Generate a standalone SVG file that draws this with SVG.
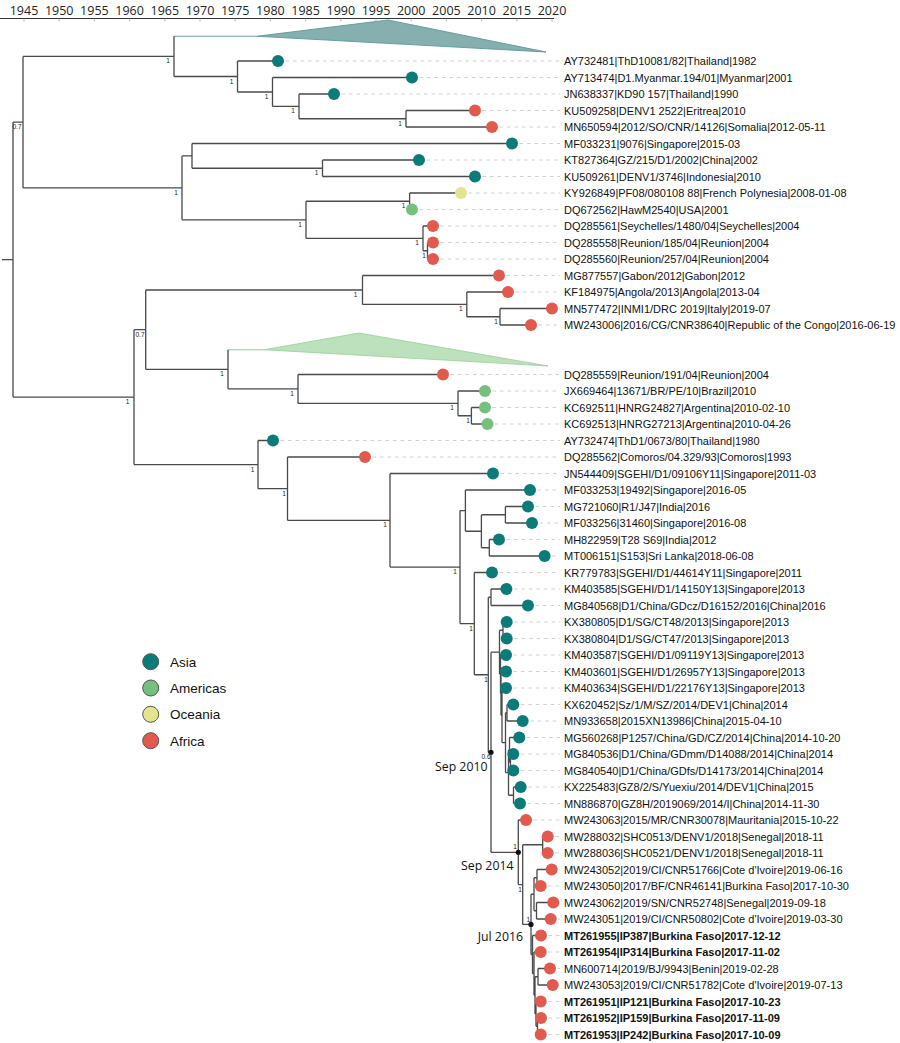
<svg xmlns="http://www.w3.org/2000/svg" width="900" height="1043" viewBox="0 0 900 1043">
<style>
.br{fill:none;stroke:#4a4a4a;stroke-width:1.3}
.ld{stroke:#d0d0d0;stroke-width:1;stroke-dasharray:3.5 4}
.as{fill:#0b7b79}.am{fill:#74c07c}.oc{fill:#e2e58d}.af{fill:#e15a4d}
.tl{font-family:"Liberation Sans",Arial,sans-serif;font-size:11px;fill:#111}
.b{font-weight:bold}
.nl{font-family:"Liberation Sans",Arial,sans-serif;font-size:6.5px;fill:#222;text-anchor:middle}
.yr{font-family:"Open Sans",sans-serif;font-size:12.5px;fill:#222;text-anchor:middle}
.dt{font-family:"Open Sans",sans-serif;font-size:12.3px;fill:#111;text-anchor:end}
.lg{font-family:"Liberation Sans",Arial,sans-serif;font-size:13.5px;fill:#111}
.lc{stroke:#555;stroke-width:1}
</style>
<rect width="900" height="1043" fill="#fff"/>
<g id="axis">
<path d="M0 18.5H554" stroke="#333" stroke-width="1"/>
<path d="M24 18.5V21.5M59.2 18.5V21.5M94.4 18.5V21.5M129.6 18.5V21.5M164.8 18.5V21.5M200 18.5V21.5M235.2 18.5V21.5M270.4 18.5V21.5M305.6 18.5V21.5M340.8 18.5V21.5M376 18.5V21.5M411.2 18.5V21.5M446.4 18.5V21.5M481.6 18.5V21.5M516.8 18.5V21.5M552 18.5V21.5" stroke="#aaa" stroke-width="0.8"/>
<text class="yr" x="24" y="15">1945</text><text class="yr" x="59.2" y="15">1950</text><text class="yr" x="94.4" y="15">1955</text><text class="yr" x="129.6" y="15">1960</text><text class="yr" x="164.8" y="15">1965</text><text class="yr" x="200" y="15">1970</text><text class="yr" x="235.2" y="15">1975</text><text class="yr" x="270.4" y="15">1980</text><text class="yr" x="305.6" y="15">1985</text><text class="yr" x="340.8" y="15">1990</text><text class="yr" x="376" y="15">1995</text><text class="yr" x="411.2" y="15">2000</text><text class="yr" x="446.4" y="15">2005</text><text class="yr" x="481.6" y="15">2010</text><text class="yr" x="516.8" y="15">2015</text><text class="yr" x="552" y="15">2020</text>
</g>
<g id="collapsed-asia">
<path d="M174 36.25H257" stroke="#6aa3a2" stroke-width="1"/>
<polygon points="257,36.25 388,20 546,52" fill="#86b0af" stroke="#5e9897" stroke-width="0.9"/>
</g>
<g id="collapsed-americas">
<path d="M228 349.75H264" stroke="#8fcf8f" stroke-width="1"/>
<polygon points="264,349.75 359,333 548,366" fill="#bde0bd" stroke="#96d196" stroke-width="0.8"/>
</g>
<g id="leaders">
<path class="ld" d="M278 61H560M412 77.5H560M334 94H560M475 110.5H560M492 127H560M512 143.5H560M419 160H560M475 176.5H560M461 193H560M412 209.5H560M433 226H560M433 242.5H560M433 259H560M499 275.5H560M508 292H560M552 308.5H560M531 325H560M443 374.5H560M485 391H560M485 407.5H560M487.5 424H560M273 440.5H560M365 457H560M493 473.5H560M530 490H560M528 506.5H560M532 523H560M499 539.5H560M544.6 556H560M492 572.5H560M506.4 589H560M528 605.5H560M506.7 622H560M506.7 638.5H560M506 655H560M506 671.5H560M506 688H560M513.3 704.5H560M522.7 721H560M519.3 737.5H560M513.3 754H560M513.3 770.5H560M520.7 787H560M520 803.5H560M526 820H560M547.7 836.5H560M547.7 853H560M551.7 869.5H560M540.7 886H560M553.3 902.5H560M550.7 919H560M541 935.5H560M540.7 952H560M550 968.5H560M552.7 985H560M540.7 1001.5H560M541 1018H560M540.7 1034.5H560"/>
</g>
<g id="connectors" class="br">
<path d="M2 259.6H13M13 122.1V397.1M13 122.1H23M13 397.1H134"/>
<path d="M23 56.4V187.9M23 56.4H174M23 187.9H182"/>
<path d="M174 36.25V76.5M174 76.5H237.5M237.5 61V92M237.5 61H278M237.5 92H272.5M272.5 77.5V106.4M272.5 77.5H412M272.5 106.4H299M299 94V118.75M299 94H334M299 118.75H406M406 110.5V127M406 110.5H475M406 127H492"/>
<path d="M182 155.9V219.8M182 155.9H192M182 219.8H306M192 143.5V168.25M192 143.5H512M192 168.25H322.5M322.5 160V176.5M322.5 160H419M322.5 176.5H475M306 201.25V238.4M306 201.25H409.6M306 238.4H423M409.6 193V209.5M409.6 193H461M409.6 209.5H412M423 226V250.75M423 226H433M423 250.75H427.5M427.5 242.5V259M427.5 242.5H433M427.5 259H433"/>
<path d="M134 329.7V464.6M134 329.7H145.7M134 464.6H258M145.7 290V369.3M145.7 290H362.5M145.7 369.3H228M362.5 275.5V304.4M362.5 275.5H499M362.5 304.4H466.8M466.8 292V316.75M466.8 292H508M466.8 316.75H500M500 308.5V325M500 308.5H552M500 325H531"/>
<path d="M228 349.75V388.9M228 388.9H298M298 374.5V403.4M298 374.5H443M298 403.4H458M458 391V415.75M458 391H485M458 415.75H471.4M471.4 407.5V424M471.4 407.5H485M471.4 424H487.5"/>
<path d="M258 440.5V488.65M258 440.5H273M258 488.65H287.5M287.5 457V520.3M287.5 457H365M287.5 520.3H390M390 473.5V567.1M390 473.5H493M390 567.1H460M460 510.6V623.6M460 510.6H465.4M460 623.6H474.3M465.4 490V531.25M465.4 490H530M465.4 531.25H481.4M481.4 514.75V547.75M481.4 514.75H505.4M481.4 547.75H489.3M505.4 506.5V523M505.4 506.5H528M505.4 523H532M489.3 539.5V556M489.3 539.5H499M489.3 556H544.6"/>
<path d="M474.3 572.5V674.75M474.3 572.5H492M474.3 674.75H488.3M488.3 597.25V752.25M488.3 597.25H491M488.3 752.25H491M491 589V605.5M491 589H506.4M491 605.5H528"/>
<path d="M491 652.2V852.3M491 652.2H499.5M491 852.3H518.3M499.5 630.25V674.2M499.5 630.25H503M499.5 674.2H500.5M503 622V638.5M503 622H506.7M503 638.5H506.7M500.5 655V693.4M500.5 655H506M500.5 693.4H501M501 671.5V715.3M501 671.5H506M501 715.3H502M502 688V742.7M502 688H506M502 742.7H505.5M505.5 712.75V772.6M505.5 712.75H507M505.5 772.6H508.5M507 704.5V721M507 704.5H513.3M507 721H522.7M508.5 749.9V795.25M508.5 749.9H509.5M508.5 795.25H513.5M509.5 737.5V762.25M509.5 737.5H519.3M509.5 762.25H510.5M510.5 754V770.5M510.5 754H513.3M510.5 770.5H513.3M513.5 787V803.5M513.5 787H520.7M513.5 803.5H520"/>
<path d="M518.3 820V884.6M518.3 820H526M518.3 884.6H522.7M522.7 844.75V924.4M522.7 844.75H542.7M522.7 924.4H531M542.7 836.5V853M542.7 836.5H547.7M542.7 853H547.7M531 894.25V954.6M531 894.25H534M531 954.6H532.5M534 877.75V910.75M534 877.75H537M534 910.75H536.5M537 869.5V886M537 869.5H551.7M537 886H540.7M536.5 902.5V919M536.5 902.5H553.3M536.5 919H550.7M532.5 935.5V973.7M532.5 935.5H541M532.5 973.7H534M534 952V995.3M534 952H540.7M534 995.3H535M535 976.75V1013.9M535 976.75H538M535 1013.9H536M538 968.5V985M538 968.5H550M538 985H552.7M536 1001.5V1026.25M536 1001.5H540.7M536 1026.25H537.5M537.5 1018V1034.5M537.5 1018H541M537.5 1034.5H540.7"/>
</g>
<g id="node-support">
<text class="nl" x="17" y="129">0.7</text>
<text class="nl" x="168" y="63.4">1</text>
<text class="nl" x="231.5" y="83.5">1</text>
<text class="nl" x="266.5" y="99">1</text>
<text class="nl" x="293" y="113.4">1</text>
<text class="nl" x="400" y="125.7">1</text>
<text class="nl" x="176" y="194.9">1</text>
<text class="nl" x="316.5" y="175.2">1</text>
<text class="nl" x="300" y="226.8">1</text>
<text class="nl" x="403.6" y="208.2">1</text>
<text class="nl" x="417" y="245.4">1</text>
<text class="nl" x="424" y="257.7">1</text>
<text class="nl" x="127.5" y="404.1">1</text>
<text class="nl" x="140" y="336.7">0.7</text>
<text class="nl" x="355.5" y="297">1</text>
<text class="nl" x="460.8" y="311.4">1</text>
<text class="nl" x="496" y="323.7">1</text>
<text class="nl" x="222" y="376.3">1</text>
<text class="nl" x="292" y="395.9">1</text>
<text class="nl" x="452" y="410.4">1</text>
<text class="nl" x="468" y="422.7">1</text>
<text class="nl" x="252.5" y="471.6">1</text>
<text class="nl" x="284" y="495.6">1</text>
<text class="nl" x="385" y="527.3">1</text>
<text class="nl" x="455" y="574.1">1</text>
<text class="nl" x="471" y="630.6">1</text>
<text class="nl" x="486" y="681.7">1</text>
<text class="nl" x="486" y="759">0.6</text>
<text class="nl" x="515" y="849">1</text>
<text class="nl" x="520" y="891.6">1</text>
<text class="nl" x="528.3" y="922">1</text>
</g>
<g id="dated-nodes">
<circle cx="491" cy="752.25" r="2.6" fill="#111"/>
<text class="dt" x="487.5" y="771">Sep 2010</text>
<circle cx="518.3" cy="852.3" r="2.6" fill="#111"/>
<text class="dt" x="513.5" y="869.5">Sep 2014</text>
<circle cx="531" cy="924.4" r="2.6" fill="#111"/>
<text class="dt" x="523" y="941">Jul 2016</text>
</g>
<g id="tip01"><circle class="as" cx="278" cy="61" r="6"/><text class="tl" x="564" y="65">AY732481|ThD10081/82|Thailand|1982</text></g>
<g id="tip02"><circle class="as" cx="412" cy="77.5" r="6"/><text class="tl" x="564" y="81.5">AY713474|D1.Myanmar.194/01|Myanmar|2001</text></g>
<g id="tip03"><circle class="as" cx="334" cy="94" r="6"/><text class="tl" x="564" y="98">JN638337|KD90 157|Thailand|1990</text></g>
<g id="tip04"><circle class="af" cx="475" cy="110.5" r="6"/><text class="tl" x="564" y="114.5">KU509258|DENV1 2522|Eritrea|2010</text></g>
<g id="tip05"><circle class="af" cx="492" cy="127" r="6"/><text class="tl" x="564" y="131">MN650594|2012/SO/CNR/14126|Somalia|2012-05-11</text></g>
<g id="tip06"><circle class="as" cx="512" cy="143.5" r="6"/><text class="tl" x="564" y="147.5">MF033231|9076|Singapore|2015-03</text></g>
<g id="tip07"><circle class="as" cx="419" cy="160" r="6"/><text class="tl" x="564" y="164">KT827364|GZ/215/D1/2002|China|2002</text></g>
<g id="tip08"><circle class="as" cx="475" cy="176.5" r="6"/><text class="tl" x="564" y="180.5">KU509261|DENV1/3746|Indonesia|2010</text></g>
<g id="tip09"><circle class="oc" cx="461" cy="193" r="6"/><text class="tl" x="564" y="197">KY926849|PF08/080108 88|French Polynesia|2008-01-08</text></g>
<g id="tip10"><circle class="am" cx="412" cy="209.5" r="6"/><text class="tl" x="564" y="213.5">DQ672562|HawM2540|USA|2001</text></g>
<g id="tip11"><circle class="af" cx="433" cy="226" r="6"/><text class="tl" x="564" y="230">DQ285561|Seychelles/1480/04|Seychelles|2004</text></g>
<g id="tip12"><circle class="af" cx="433" cy="242.5" r="6"/><text class="tl" x="564" y="246.5">DQ285558|Reunion/185/04|Reunion|2004</text></g>
<g id="tip13"><circle class="af" cx="433" cy="259" r="6"/><text class="tl" x="564" y="263">DQ285560|Reunion/257/04|Reunion|2004</text></g>
<g id="tip14"><circle class="af" cx="499" cy="275.5" r="6"/><text class="tl" x="564" y="279.5">MG877557|Gabon/2012|Gabon|2012</text></g>
<g id="tip15"><circle class="af" cx="508" cy="292" r="6"/><text class="tl" x="564" y="296">KF184975|Angola/2013|Angola|2013-04</text></g>
<g id="tip16"><circle class="af" cx="552" cy="308.5" r="6"/><text class="tl" x="564" y="312.5">MN577472|INMI1/DRC 2019|Italy|2019-07</text></g>
<g id="tip17"><circle class="af" cx="531" cy="325" r="6"/><text class="tl" x="564" y="329">MW243006|2016/CG/CNR38640|Republic of the Congo|2016-06-19</text></g>
<g id="tip18"><circle class="af" cx="443" cy="374.5" r="6"/><text class="tl" x="564" y="378.5">DQ285559|Reunion/191/04|Reunion|2004</text></g>
<g id="tip19"><circle class="am" cx="485" cy="391" r="6"/><text class="tl" x="564" y="395">JX669464|13671/BR/PE/10|Brazil|2010</text></g>
<g id="tip20"><circle class="am" cx="485" cy="407.5" r="6"/><text class="tl" x="564" y="411.5">KC692511|HNRG24827|Argentina|2010-02-10</text></g>
<g id="tip21"><circle class="am" cx="487.5" cy="424" r="6"/><text class="tl" x="564" y="428">KC692513|HNRG27213|Argentina|2010-04-26</text></g>
<g id="tip22"><circle class="as" cx="273" cy="440.5" r="6"/><text class="tl" x="564" y="444.5">AY732474|ThD1/0673/80|Thailand|1980</text></g>
<g id="tip23"><circle class="af" cx="365" cy="457" r="6"/><text class="tl" x="564" y="461">DQ285562|Comoros/04.329/93|Comoros|1993</text></g>
<g id="tip24"><circle class="as" cx="493" cy="473.5" r="6"/><text class="tl" x="564" y="477.5">JN544409|SGEHI/D1/09106Y11|Singapore|2011-03</text></g>
<g id="tip25"><circle class="as" cx="530" cy="490" r="6"/><text class="tl" x="564" y="494">MF033253|19492|Singapore|2016-05</text></g>
<g id="tip26"><circle class="as" cx="528" cy="506.5" r="6"/><text class="tl" x="564" y="510.5">MG721060|R1/J47|India|2016</text></g>
<g id="tip27"><circle class="as" cx="532" cy="523" r="6"/><text class="tl" x="564" y="527">MF033256|31460|Singapore|2016-08</text></g>
<g id="tip28"><circle class="as" cx="499" cy="539.5" r="6"/><text class="tl" x="564" y="543.5">MH822959|T28 S69|India|2012</text></g>
<g id="tip29"><circle class="as" cx="544.6" cy="556" r="6"/><text class="tl" x="564" y="560">MT006151|S153|Sri Lanka|2018-06-08</text></g>
<g id="tip30"><circle class="as" cx="492" cy="572.5" r="6"/><text class="tl" x="564" y="576.5">KR779783|SGEHI/D1/44614Y11|Singapore|2011</text></g>
<g id="tip31"><circle class="as" cx="506.4" cy="589" r="6"/><text class="tl" x="564" y="593">KM403585|SGEHI/D1/14150Y13|Singapore|2013</text></g>
<g id="tip32"><circle class="as" cx="528" cy="605.5" r="6"/><text class="tl" x="564" y="609.5">MG840568|D1/China/GDcz/D16152/2016|China|2016</text></g>
<g id="tip33"><circle class="as" cx="506.7" cy="622" r="6"/><text class="tl" x="564" y="626">KX380805|D1/SG/CT48/2013|Singapore|2013</text></g>
<g id="tip34"><circle class="as" cx="506.7" cy="638.5" r="6"/><text class="tl" x="564" y="642.5">KX380804|D1/SG/CT47/2013|Singapore|2013</text></g>
<g id="tip35"><circle class="as" cx="506" cy="655" r="6"/><text class="tl" x="564" y="659">KM403587|SGEHI/D1/09119Y13|Singapore|2013</text></g>
<g id="tip36"><circle class="as" cx="506" cy="671.5" r="6"/><text class="tl" x="564" y="675.5">KM403601|SGEHI/D1/26957Y13|Singapore|2013</text></g>
<g id="tip37"><circle class="as" cx="506" cy="688" r="6"/><text class="tl" x="564" y="692">KM403634|SGEHI/D1/22176Y13|Singapore|2013</text></g>
<g id="tip38"><circle class="as" cx="513.3" cy="704.5" r="6"/><text class="tl" x="564" y="708.5">KX620452|Sz/1/M/SZ/2014/DEV1|China|2014</text></g>
<g id="tip39"><circle class="as" cx="522.7" cy="721" r="6"/><text class="tl" x="564" y="725">MN933658|2015XN13986|China|2015-04-10</text></g>
<g id="tip40"><circle class="as" cx="519.3" cy="737.5" r="6"/><text class="tl" x="564" y="741.5">MG560268|P1257/China/GD/CZ/2014|China|2014-10-20</text></g>
<g id="tip41"><circle class="as" cx="513.3" cy="754" r="6"/><text class="tl" x="564" y="758">MG840536|D1/China/GDmm/D14088/2014|China|2014</text></g>
<g id="tip42"><circle class="as" cx="513.3" cy="770.5" r="6"/><text class="tl" x="564" y="774.5">MG840540|D1/China/GDfs/D14173/2014|China|2014</text></g>
<g id="tip43"><circle class="as" cx="520.7" cy="787" r="6"/><text class="tl" x="564" y="791">KX225483|GZ8/2/S/Yuexiu/2014/DEV1|China|2015</text></g>
<g id="tip44"><circle class="as" cx="520" cy="803.5" r="6"/><text class="tl" x="564" y="807.5">MN886870|GZ8H/2019069/2014/I|China|2014-11-30</text></g>
<g id="tip45"><circle class="af" cx="526" cy="820" r="6"/><text class="tl" x="564" y="824">MW243063|2015/MR/CNR30078|Mauritania|2015-10-22</text></g>
<g id="tip46"><circle class="af" cx="547.7" cy="836.5" r="6"/><text class="tl" x="564" y="840.5">MW288032|SHC0513/DENV1/2018|Senegal|2018-11</text></g>
<g id="tip47"><circle class="af" cx="547.7" cy="853" r="6"/><text class="tl" x="564" y="857">MW288036|SHC0521/DENV1/2018|Senegal|2018-11</text></g>
<g id="tip48"><circle class="af" cx="551.7" cy="869.5" r="6"/><text class="tl" x="564" y="873.5">MW243052|2019/CI/CNR51766|Cote d'Ivoire|2019-06-16</text></g>
<g id="tip49"><circle class="af" cx="540.7" cy="886" r="6"/><text class="tl" x="564" y="890">MW243050|2017/BF/CNR46141|Burkina Faso|2017-10-30</text></g>
<g id="tip50"><circle class="af" cx="553.3" cy="902.5" r="6"/><text class="tl" x="564" y="906.5">MW243062|2019/SN/CNR52748|Senegal|2019-09-18</text></g>
<g id="tip51"><circle class="af" cx="550.7" cy="919" r="6"/><text class="tl" x="564" y="923">MW243051|2019/CI/CNR50802|Cote d'Ivoire|2019-03-30</text></g>
<g id="tip52"><circle class="af" cx="541" cy="935.5" r="6"/><text class="tl b" x="564" y="939.5">MT261955|IP387|Burkina Faso|2017-12-12</text></g>
<g id="tip53"><circle class="af" cx="540.7" cy="952" r="6"/><text class="tl b" x="564" y="956">MT261954|IP314|Burkina Faso|2017-11-02</text></g>
<g id="tip54"><circle class="af" cx="550" cy="968.5" r="6"/><text class="tl" x="564" y="972.5">MN600714|2019/BJ/9943|Benin|2019-02-28</text></g>
<g id="tip55"><circle class="af" cx="552.7" cy="985" r="6"/><text class="tl" x="564" y="989">MW243053|2019/CI/CNR51782|Cote d'Ivoire|2019-07-13</text></g>
<g id="tip56"><circle class="af" cx="540.7" cy="1001.5" r="6"/><text class="tl b" x="564" y="1005.5">MT261951|IP121|Burkina Faso|2017-10-23</text></g>
<g id="tip57"><circle class="af" cx="541" cy="1018" r="6"/><text class="tl b" x="564" y="1022">MT261952|IP159|Burkina Faso|2017-11-09</text></g>
<g id="tip58"><circle class="af" cx="540.7" cy="1034.5" r="6"/><text class="tl b" x="564" y="1038.5">MT261953|IP242|Burkina Faso|2017-10-09</text></g>
<g id="legend">
<circle class="as lc" cx="150.7" cy="661.7" r="8"/><text class="lg" x="170" y="666.5">Asia</text>
<circle class="am lc" cx="150.7" cy="688" r="8"/><text class="lg" x="170" y="692.8">Americas</text>
<circle class="oc lc" cx="150.7" cy="714.3" r="8"/><text class="lg" x="170" y="719.1">Oceania</text>
<circle class="af lc" cx="150.7" cy="740.7" r="8"/><text class="lg" x="170" y="745.5">Africa</text>
</g>
</svg>
